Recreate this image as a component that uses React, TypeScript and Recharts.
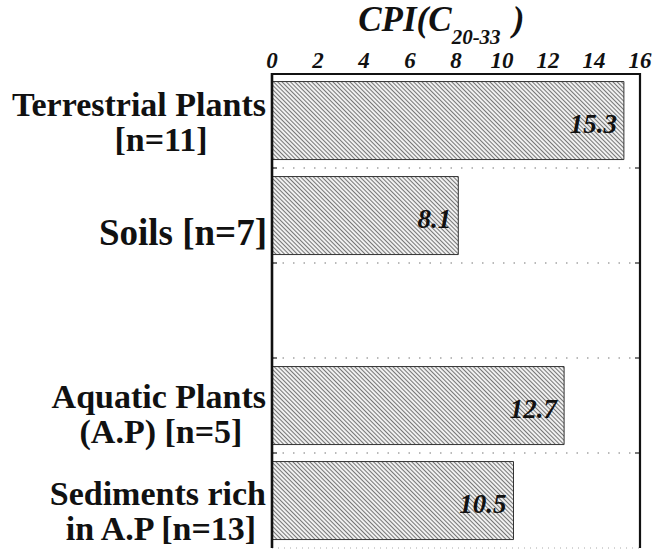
import { BarChart, Bar, XAxis, YAxis, ReferenceLine, LabelList } from "recharts";

const categories = ["Terrestrial Plants [n=11]", "Soils [n=7]", "", "Aquatic Plants (A.P) [n=5]", "Sediments rich in A.P [n=13]"];
const labelTop = ["Terrestrial Plants", "Soils [n=7]", "", "Aquatic Plants", "Sediments rich"];
const labelBottom = ["[n=11]", "", "", "(A.P) [n=5]", "in A.P [n=13]"];
const cpiValues = [15.3, 8.1, null, 12.7, 10.5];
const majorTicks = [0, 2, 4, 6, 8, 10, 12, 14, 16];
const minorTicks = [
  0, 0.5, 1, 1.5, 2, 2.5, 3, 3.5, 4, 4.5, 5, 5.5, 6, 6.5, 7, 7.5, 8,
  8.5, 9, 9.5, 10, 10.5, 11, 11.5, 12, 12.5, 13, 13.5, 14, 14.5, 15, 15.5, 16,
];
// group boundaries: [category, which edge of its band]
const boundaries: [string, "start" | "end"][] = [
  [categories[1], "start"],
  [categories[1], "end"],
  [categories[3], "start"],
  [categories[4], "start"],
];

const data = categories.map((name, i) => ({ name, cpi: cpiValues[i] }));

const serif = "'Liberation Serif', 'Times New Roman', serif";
const labelShift = [-7, 0, 0, 0, 2];

function CategoryTick({ x, y, payload, index }: any) {
  const i = typeof index === "number" ? index : categories.indexOf(payload.value);
  const top = labelTop[i];
  const bottom = labelBottom[i];
  if (!top) return null;
  const cy = y + labelShift[i];
  const common = { fontFamily: serif, fontWeight: "bold", fill: "#111" };
  if (!bottom) {
    return (
      <text x={x} y={cy + 29} textAnchor="end" fontSize={37} {...common}>
        {top}
      </text>
    );
  }
  return (
    <g>
      <text x={x - 1} y={cy + 2} textAnchor="end" fontSize={34} {...common}>{top}</text>
      <text x={x - 106} y={cy + 37} textAnchor="middle" fontSize={34} {...common}>{bottom}</text>
    </g>
  );
}

function ValueLabel({ x, y, width, height, value }: any) {
  if (value == null) return null;
  return (
    <text
      x={x + width - 7}
      y={y + height / 2 + 12}
      textAnchor="end"
      fontFamily={serif}
      fontStyle="italic"
      fontWeight="bold"
      fontSize={27}
      fill="#111"
    >
      {value}
    </text>
  );
}

function BoundaryLine({ x1, y1, x2, y2 }: any) {
  const left = Math.min(x1, x2);
  const right = Math.max(x1, x2);
  return (
    <g>
      <line x1={left} y1={y1} x2={right} y2={y2} stroke="#777" strokeWidth={1.2} strokeDasharray="1.5 9" />
      <line x1={left} y1={y1} x2={left + 5} y2={y1} stroke="#222" strokeWidth={1.2} />
      <line x1={right - 5} y1={y2} x2={right} y2={y2} stroke="#222" strokeWidth={1.2} />
    </g>
  );
}

function TitleLabel({ viewBox }: any) {
  const cx = viewBox.x + viewBox.width * 0.46;
  return (
    <text x={cx} y={31} textAnchor="middle" fontFamily={serif} fontStyle="italic" fontWeight="bold" fontSize={35} fill="#111">
      <tspan>CPI(C</tspan>
      <tspan fontSize={21} dy={13}>20-33</tspan>
      <tspan dx={12} dy={-13}>)</tspan>
    </text>
  );
}

export default function App() {
  return (
    <div style={{ width: 656, height: 549, background: "#fff" }}>
      <style>{`body{margin:0}`}</style>
      <BarChart
        width={656}
        height={549}
        data={data}
        layout="vertical"
        margin={{ top: 0, right: 16, bottom: 1, left: 0 }}
        barCategoryGap="9%"
      >
        <defs>
          <pattern id="hatch" width="3" height="3" patternUnits="userSpaceOnUse" patternTransform="rotate(-45)">
            <rect width="3" height="3" fill="#f0f0f0" />
            <line x1="0" y1="0" x2="0" y2="3" stroke="#3a3a3a" strokeWidth="1.35" />
          </pattern>
        </defs>
        <XAxis
          xAxisId="val"
          type="number"
          orientation="top"
          domain={[0, 16]}
          allowDataOverflow
          ticks={minorTicks}
          interval={0}
          mirror
          height={1}
          tick={false}
          tickSize={4}
          tickLine={{ stroke: "#222", strokeWidth: 1 }}
          axisLine={{ stroke: "#111", strokeWidth: 2.2 }}
        />
        <XAxis
          xAxisId="major"
          type="number"
          orientation="top"
          domain={[0, 16]}
          allowDataOverflow
          ticks={majorTicks}
          interval={0}
          mirror
          height={1}
          tick={false}
          tickSize={7}
          tickLine={{ stroke: "#222", strokeWidth: 1.2 }}
          axisLine={false}
        />
        <XAxis
          xAxisId="labels"
          type="number"
          orientation="top"
          domain={[0, 16]}
          allowDataOverflow
          ticks={majorTicks}
          interval={0}
          height={73}
          tickLine={false}
          axisLine={false}
          tickSize={0}
          tickMargin={5}
          tick={{ fontFamily: serif, fontStyle: "italic", fontWeight: "bold", fontSize: 23, fill: "#111" }}
          label={<TitleLabel />}
        />
        <XAxis
          xAxisId="bottom"
          type="number"
          orientation="bottom"
          domain={[0, 16]}
          allowDataOverflow
          ticks={minorTicks}
          interval={0}
          mirror
          height={1}
          tick={false}
          tickSize={3}
          tickLine={{ stroke: "#777", strokeWidth: 1 }}
          axisLine={{ stroke: "#aaa", strokeDasharray: "1 5" }}
        />
        <YAxis
          yAxisId="cat"
          type="category"
          dataKey="name"
          width={272}
          tickLine={false}
          axisLine={{ stroke: "#111", strokeWidth: 2.6 }}
          tickSize={0}
          tickMargin={5}
          interval={0}
          tick={<CategoryTick />}
        />
        {boundaries.map(([cat, edge], k) => (
          <ReferenceLine
            key={k}
            y={cat}
            position={edge}
            yAxisId="cat"
            xAxisId="val"
            shape={<BoundaryLine />}
          />
        ))}
        <ReferenceLine x={16} xAxisId="val" yAxisId="cat" stroke="#111" strokeWidth={2.2} />
        <Bar
          dataKey="cpi"
          xAxisId="val"
          yAxisId="cat"
          fill="url(#hatch)"
          stroke="#333"
          strokeWidth={1}
          isAnimationActive={false}
        >
          <LabelList dataKey="cpi" content={<ValueLabel />} />
        </Bar>
      </BarChart>
    </div>
  );
}
